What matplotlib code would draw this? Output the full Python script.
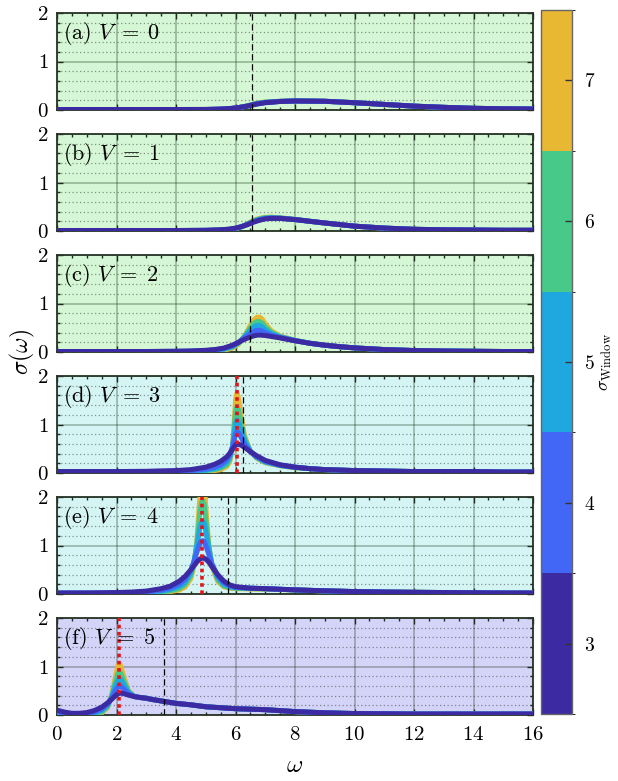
import numpy as np
import matplotlib
matplotlib.use('Agg')
import matplotlib.pyplot as plt
from matplotlib.colors import ListedColormap, BoundaryNorm
from matplotlib.ticker import MultipleLocator
import matplotlib.cm as cm

plt.rcParams['font.family'] = 'cmr10'
plt.rcParams['mathtext.fontset'] = 'cm'
plt.rcParams['axes.formatter.use_mathtext'] = True

#------------------------------ data ------------------------------#
windows = [3, 4, 5, 6, 7]
win_colors = ['#3b2aa2', '#4267f6', '#1fa8df', '#47c98a', '#e9b833']
V_list = [0, 1, 2, 3, 4, 5]
tags = ['a', 'b', 'c', 'd', 'e', 'f']
edge_w = [6.55, 6.55, 6.48, 6.26, 5.76, 3.6]        # 黑色虚线
peak_w = [None, None, None, 6.04, 4.89, 2.1]        # 红色点线
bg_colors = ['#d5f7d5', '#d5f7d5', '#d5f7d5', '#d5f5f5', '#d5f5f5', '#d4d4f8']

omega_a = [0, 1, 2, 3, 4, 5, 5.5, 5.8, 6.1, 6.4, 6.7, 7.0, 7.5, 8, 9, 10, 11, 12, 13, 14, 15, 16]
sigma_a = [
    [0.01, 0.01, 0.01, 0.01, 0.01, 0.012, 0.02, 0.03, 0.05, 0.08, 0.12, 0.15, 0.175, 0.185, 0.18, 0.15, 0.115, 0.08, 0.055, 0.035, 0.025, 0.02],
    [0.01, 0.01, 0.01, 0.01, 0.01, 0.011, 0.018, 0.028, 0.05, 0.081, 0.124, 0.154, 0.177, 0.186, 0.18, 0.15, 0.115, 0.08, 0.055, 0.035, 0.025, 0.02],
    [0.01, 0.01, 0.01, 0.01, 0.01, 0.01, 0.015, 0.025, 0.048, 0.083, 0.13, 0.158, 0.178, 0.186, 0.18, 0.15, 0.115, 0.08, 0.055, 0.035, 0.025, 0.02],
    [0.01, 0.01, 0.01, 0.01, 0.01, 0.01, 0.012, 0.022, 0.046, 0.086, 0.135, 0.161, 0.179, 0.187, 0.18, 0.15, 0.115, 0.08, 0.055, 0.035, 0.025, 0.02],
    [0.01, 0.01, 0.01, 0.01, 0.01, 0.01, 0.01, 0.02, 0.045, 0.089, 0.14, 0.164, 0.18, 0.187, 0.18, 0.15, 0.115, 0.08, 0.055, 0.035, 0.025, 0.02],
]

omega_b = [0, 1, 2, 3, 4, 5, 5.5, 5.8, 6.0, 6.2, 6.4, 6.6, 6.8, 7.0, 7.2, 7.5, 8, 8.5, 9, 10, 11, 12, 13, 14, 15, 16]
sigma_b = [
    [0.01, 0.01, 0.01, 0.01, 0.01, 0.015, 0.025, 0.04, 0.06, 0.09, 0.13, 0.18, 0.22, 0.25, 0.26, 0.26, 0.235, 0.2, 0.165, 0.1, 0.06, 0.035, 0.025, 0.02, 0.015, 0.015],
    [0.01, 0.01, 0.01, 0.01, 0.01, 0.013, 0.022, 0.036, 0.056, 0.09, 0.135, 0.19, 0.23, 0.257, 0.265, 0.262, 0.236, 0.2, 0.165, 0.1, 0.06, 0.035, 0.025, 0.02, 0.015, 0.015],
    [0.01, 0.01, 0.01, 0.01, 0.01, 0.012, 0.019, 0.032, 0.052, 0.088, 0.14, 0.2, 0.24, 0.265, 0.272, 0.265, 0.237, 0.2, 0.165, 0.1, 0.06, 0.035, 0.025, 0.02, 0.015, 0.015],
    [0.01, 0.01, 0.01, 0.01, 0.01, 0.011, 0.017, 0.028, 0.048, 0.087, 0.145, 0.21, 0.25, 0.274, 0.28, 0.269, 0.238, 0.2, 0.165, 0.1, 0.06, 0.035, 0.025, 0.02, 0.015, 0.015],
    [0.01, 0.01, 0.01, 0.01, 0.01, 0.01, 0.015, 0.025, 0.045, 0.085, 0.15, 0.22, 0.26, 0.283, 0.288, 0.273, 0.239, 0.2, 0.165, 0.1, 0.06, 0.035, 0.025, 0.02, 0.015, 0.015],
]

omega_c = [0, 1, 2, 3, 4, 4.5, 5, 5.3, 5.6, 5.9, 6.1, 6.3, 6.5, 6.6, 6.7, 6.8, 6.9, 7.0, 7.2, 7.5, 8, 8.5, 9, 9.5, 10, 11, 12, 13, 14, 15, 16]
sigma_c = [
    [0.01, 0.01, 0.01, 0.01, 0.015, 0.02, 0.035, 0.05, 0.08, 0.14, 0.2, 0.26, 0.31, 0.33, 0.345, 0.35, 0.345, 0.34, 0.32, 0.29, 0.23, 0.18, 0.14, 0.11, 0.085, 0.05, 0.03, 0.02, 0.015, 0.01, 0.01],
    [0.01, 0.01, 0.01, 0.01, 0.013, 0.017, 0.03, 0.044, 0.07, 0.13, 0.2, 0.29, 0.38, 0.42, 0.445, 0.45, 0.43, 0.4, 0.35, 0.3, 0.235, 0.18, 0.14, 0.11, 0.085, 0.05, 0.03, 0.02, 0.015, 0.01, 0.01],
    [0.01, 0.01, 0.01, 0.01, 0.012, 0.015, 0.025, 0.037, 0.06, 0.115, 0.19, 0.31, 0.45, 0.51, 0.545, 0.55, 0.52, 0.46, 0.38, 0.31, 0.238, 0.18, 0.14, 0.11, 0.085, 0.05, 0.03, 0.02, 0.015, 0.01, 0.01],
    [0.01, 0.01, 0.01, 0.01, 0.011, 0.013, 0.02, 0.03, 0.05, 0.1, 0.18, 0.32, 0.5, 0.58, 0.625, 0.63, 0.6, 0.52, 0.41, 0.32, 0.24, 0.18, 0.14, 0.11, 0.085, 0.05, 0.03, 0.02, 0.015, 0.01, 0.01],
    [0.01, 0.01, 0.01, 0.01, 0.01, 0.01, 0.015, 0.02, 0.035, 0.08, 0.16, 0.33, 0.55, 0.65, 0.71, 0.72, 0.68, 0.58, 0.44, 0.33, 0.242, 0.18, 0.14, 0.11, 0.085, 0.05, 0.03, 0.02, 0.015, 0.01, 0.01],
]

omega_d = [0, 1, 2, 3, 4, 4.5, 5, 5.3, 5.5, 5.7, 5.8, 5.9, 6.0, 6.05, 6.1, 6.2, 6.3, 6.5, 6.7, 7.0, 7.5, 8, 8.5, 9, 10, 11, 12, 13, 14, 15, 16]
sigma_d = [
    [0.03, 0.03, 0.03, 0.035, 0.05, 0.07, 0.12, 0.18, 0.24, 0.33, 0.40, 0.49, 0.58, 0.6, 0.595, 0.57, 0.53, 0.44, 0.36, 0.26, 0.17, 0.12, 0.09, 0.07, 0.05, 0.04, 0.03, 0.03, 0.03, 0.02, 0.02],
    [0.03, 0.03, 0.03, 0.03, 0.04, 0.05, 0.08, 0.12, 0.17, 0.27, 0.36, 0.54, 0.8, 0.85, 0.83, 0.72, 0.6, 0.44, 0.34, 0.24, 0.16, 0.12, 0.09, 0.07, 0.05, 0.04, 0.03, 0.03, 0.03, 0.02, 0.02],
    [0.02, 0.02, 0.02, 0.02, 0.03, 0.035, 0.06, 0.09, 0.13, 0.22, 0.32, 0.55, 1.02, 1.09, 1.05, 0.86, 0.67, 0.45, 0.33, 0.23, 0.16, 0.12, 0.09, 0.07, 0.05, 0.04, 0.03, 0.03, 0.03, 0.02, 0.02],
    [0.02, 0.02, 0.02, 0.02, 0.025, 0.03, 0.045, 0.07, 0.1, 0.17, 0.27, 0.52, 1.26, 1.37, 1.3, 1.0, 0.73, 0.45, 0.32, 0.22, 0.15, 0.11, 0.09, 0.07, 0.05, 0.04, 0.03, 0.03, 0.03, 0.02, 0.02],
    [0.02, 0.02, 0.02, 0.02, 0.02, 0.025, 0.035, 0.05, 0.07, 0.13, 0.22, 0.48, 1.5, 1.65, 1.55, 1.15, 0.78, 0.44, 0.31, 0.21, 0.15, 0.11, 0.09, 0.07, 0.05, 0.04, 0.03, 0.03, 0.03, 0.02, 0.02],
]

omega_e = [0, 1, 2, 2.5, 3, 3.5, 3.8, 4.1, 4.3, 4.5, 4.6, 4.7, 4.8, 4.85, 4.9, 4.95, 5.0, 5.1, 5.2, 5.4, 5.6, 5.8, 6.0, 6.5, 7, 8, 9, 10, 11, 12, 13, 14, 15, 16]
sigma_e = [
    [0.02, 0.02, 0.03, 0.04, 0.06, 0.11, 0.16, 0.26, 0.36, 0.50, 0.58, 0.66, 0.72, 0.735, 0.74, 0.735, 0.72, 0.66, 0.57, 0.40, 0.27, 0.19, 0.15, 0.12, 0.11, 0.085, 0.065, 0.05, 0.04, 0.035, 0.03, 0.025, 0.02, 0.02],
    [0.02, 0.02, 0.02, 0.03, 0.04, 0.08, 0.12, 0.2, 0.3, 0.5, 0.66, 0.86, 1.04, 1.09, 1.1, 1.08, 1.0, 0.82, 0.62, 0.38, 0.24, 0.17, 0.14, 0.12, 0.11, 0.085, 0.065, 0.05, 0.04, 0.035, 0.03, 0.025, 0.02, 0.02],
    [0.02, 0.02, 0.02, 0.025, 0.03, 0.06, 0.09, 0.15, 0.24, 0.44, 0.66, 0.98, 1.36, 1.47, 1.5, 1.46, 1.3, 0.95, 0.64, 0.34, 0.2, 0.15, 0.13, 0.12, 0.11, 0.085, 0.065, 0.05, 0.04, 0.035, 0.03, 0.025, 0.02, 0.02],
    [0.01, 0.01, 0.015, 0.02, 0.02, 0.04, 0.065, 0.11, 0.19, 0.38, 0.62, 1.05, 1.68, 1.88, 1.92, 1.85, 1.55, 1.0, 0.62, 0.3, 0.17, 0.13, 0.12, 0.11, 0.105, 0.085, 0.065, 0.05, 0.04, 0.035, 0.03, 0.025, 0.02, 0.02],
    [0.01, 0.01, 0.01, 0.015, 0.015, 0.03, 0.05, 0.08, 0.14, 0.32, 0.56, 1.08, 2.0, 2.33, 2.4, 2.3, 1.8, 1.02, 0.58, 0.26, 0.15, 0.12, 0.11, 0.105, 0.1, 0.085, 0.065, 0.05, 0.04, 0.035, 0.03, 0.025, 0.02, 0.02],
]

omega_f = [0, 0.25, 0.5, 0.75, 1.0, 1.25, 1.5, 1.7, 1.85, 1.95, 2.05, 2.1, 2.15, 2.25, 2.4, 2.6, 2.8, 3.0, 3.2, 3.5, 4, 4.5, 5, 5.5, 6, 6.5, 7, 7.5, 8, 9, 10, 11, 12, 13, 14, 15, 16]
sigma_f = [
    [0.10, 0.06, 0.035, 0.035, 0.05, 0.09, 0.16, 0.25, 0.33, 0.39, 0.44, 0.45, 0.45, 0.44, 0.41, 0.38, 0.36, 0.345, 0.32, 0.29, 0.24, 0.21, 0.17, 0.15, 0.13, 0.12, 0.11, 0.09, 0.07, 0.045, 0.03, 0.025, 0.02, 0.02, 0.02, 0.02, 0.02],
    [0.07, 0.04, 0.02, 0.02, 0.03, 0.06, 0.12, 0.22, 0.36, 0.49, 0.58, 0.6, 0.59, 0.53, 0.44, 0.38, 0.36, 0.345, 0.32, 0.29, 0.24, 0.21, 0.17, 0.15, 0.13, 0.12, 0.11, 0.09, 0.07, 0.045, 0.03, 0.025, 0.02, 0.02, 0.02, 0.02, 0.02],
    [0.05, 0.02, 0.01, 0.01, 0.02, 0.04, 0.09, 0.2, 0.39, 0.58, 0.72, 0.75, 0.73, 0.62, 0.47, 0.38, 0.36, 0.345, 0.32, 0.29, 0.24, 0.21, 0.17, 0.15, 0.13, 0.12, 0.11, 0.09, 0.07, 0.045, 0.03, 0.025, 0.02, 0.02, 0.02, 0.02, 0.02],
    [0.03, 0.01, 0.0, 0.0, 0.01, 0.02, 0.06, 0.17, 0.42, 0.66, 0.86, 0.9, 0.86, 0.7, 0.49, 0.38, 0.36, 0.35, 0.32, 0.29, 0.24, 0.21, 0.17, 0.15, 0.13, 0.12, 0.11, 0.09, 0.07, 0.045, 0.03, 0.025, 0.02, 0.02, 0.02, 0.02, 0.02],
    [0.0, 0.0, 0.0, 0.0, 0.0, 0.01, 0.04, 0.15, 0.45, 0.75, 1.02, 1.06, 1.0, 0.78, 0.5, 0.38, 0.36, 0.35, 0.32, 0.29, 0.24, 0.21, 0.17, 0.15, 0.13, 0.12, 0.11, 0.09, 0.07, 0.045, 0.03, 0.025, 0.02, 0.02, 0.02, 0.02, 0.02],
]

omega_all = [omega_a, omega_b, omega_c, omega_d, omega_e, omega_f]
sigma_all = [sigma_a, sigma_b, sigma_c, sigma_d, sigma_e, sigma_f]

#------------------------------ 画图 ------------------------------#
W, H = 618, 781
fig = plt.figure(figsize=(W / 100, H / 100), dpi=100)

tops = [13, 134, 255, 376, 497, 618]
ph = 97
for i in range(6):
    ax = fig.add_axes([57 / W, 1 - (tops[i] + ph) / H, 476 / W, ph / H])
    ax.set_facecolor(bg_colors[i])
    w = omega_all[i]
    # 大窗口先画，σ=3 的曲线压在最上面
    for k in range(4, -1, -1):
        ax.plot(w, sigma_all[i][k], color=win_colors[k], lw=3.6,
                solid_capstyle='round', solid_joinstyle='round', zorder=3)
    ax.axvline(edge_w[i], color='k', ls=(0, (5, 3)), lw=0.9, zorder=4)
    if peak_w[i] is not None:
        ax.axvline(peak_w[i], color='#e3141c', ls=(0, (1, 1)), lw=2.6, zorder=5)

    ax.set_xlim(0, 16)
    ax.set_ylim(0, 2)
    ax.set_xticks(np.arange(0, 17, 2))
    ax.set_yticks([0, 1, 2])
    ax.xaxis.set_minor_locator(MultipleLocator(0.5))
    ax.yaxis.set_minor_locator(MultipleLocator(0.2))
    ax.set_axisbelow(True)
    ax.grid(which='major', color='#1e3a1e', alpha=0.35, lw=1.2)
    ax.grid(which='minor', axis='y', color='k', alpha=0.4, ls=(0, (1, 2)), lw=0.9)
    ax.tick_params(which='both', direction='in', top=True, right=True,
                   labelsize=15, color='#1e2a1e', width=1)
    ax.tick_params(which='major', length=4)
    ax.tick_params(which='minor', length=2.5)
    ax.tick_params(axis='y', pad=6)
    for s in ax.spines.values():
        s.set_color('#263326')
        s.set_linewidth(1.3)
    if i < 5:
        ax.set_xticklabels([])
    else:
        ax.tick_params(axis='x', pad=8)
    ax.text(0.013, 0.79, r'(%s) $V\;=\;%d$' % (tags[i], V_list[i]),
            transform=ax.transAxes, fontsize=16, va='center', zorder=6)

# 离散色标
cax = fig.add_axes([541 / W, 1 - 714 / H, 31 / W, 704 / H])
cmap = ListedColormap(win_colors)
norm = BoundaryNorm([2.5, 3.5, 4.5, 5.5, 6.5, 7.5], cmap.N)
cb = fig.colorbar(cm.ScalarMappable(norm=norm, cmap=cmap), cax=cax, ticks=windows)
cb.ax.tick_params(direction='in', length=5, width=1, labelsize=14, color='#333333', pad=9)
cb.outline.set_edgecolor('#666666')
cb.outline.set_linewidth(1)
cb.set_label(r'$\sigma_{\mathrm{Window}}$', fontsize=13, labelpad=2)

fig.text(22 / W, 1 - 352 / H, r'$\sigma(\omega)$', rotation=90, fontsize=17,
         ha='center', va='center')
fig.text(295 / W, 1 - 766 / H, r'$\omega$', fontsize=18, ha='center', va='center')

fig.savefig('out.png', dpi=100)
